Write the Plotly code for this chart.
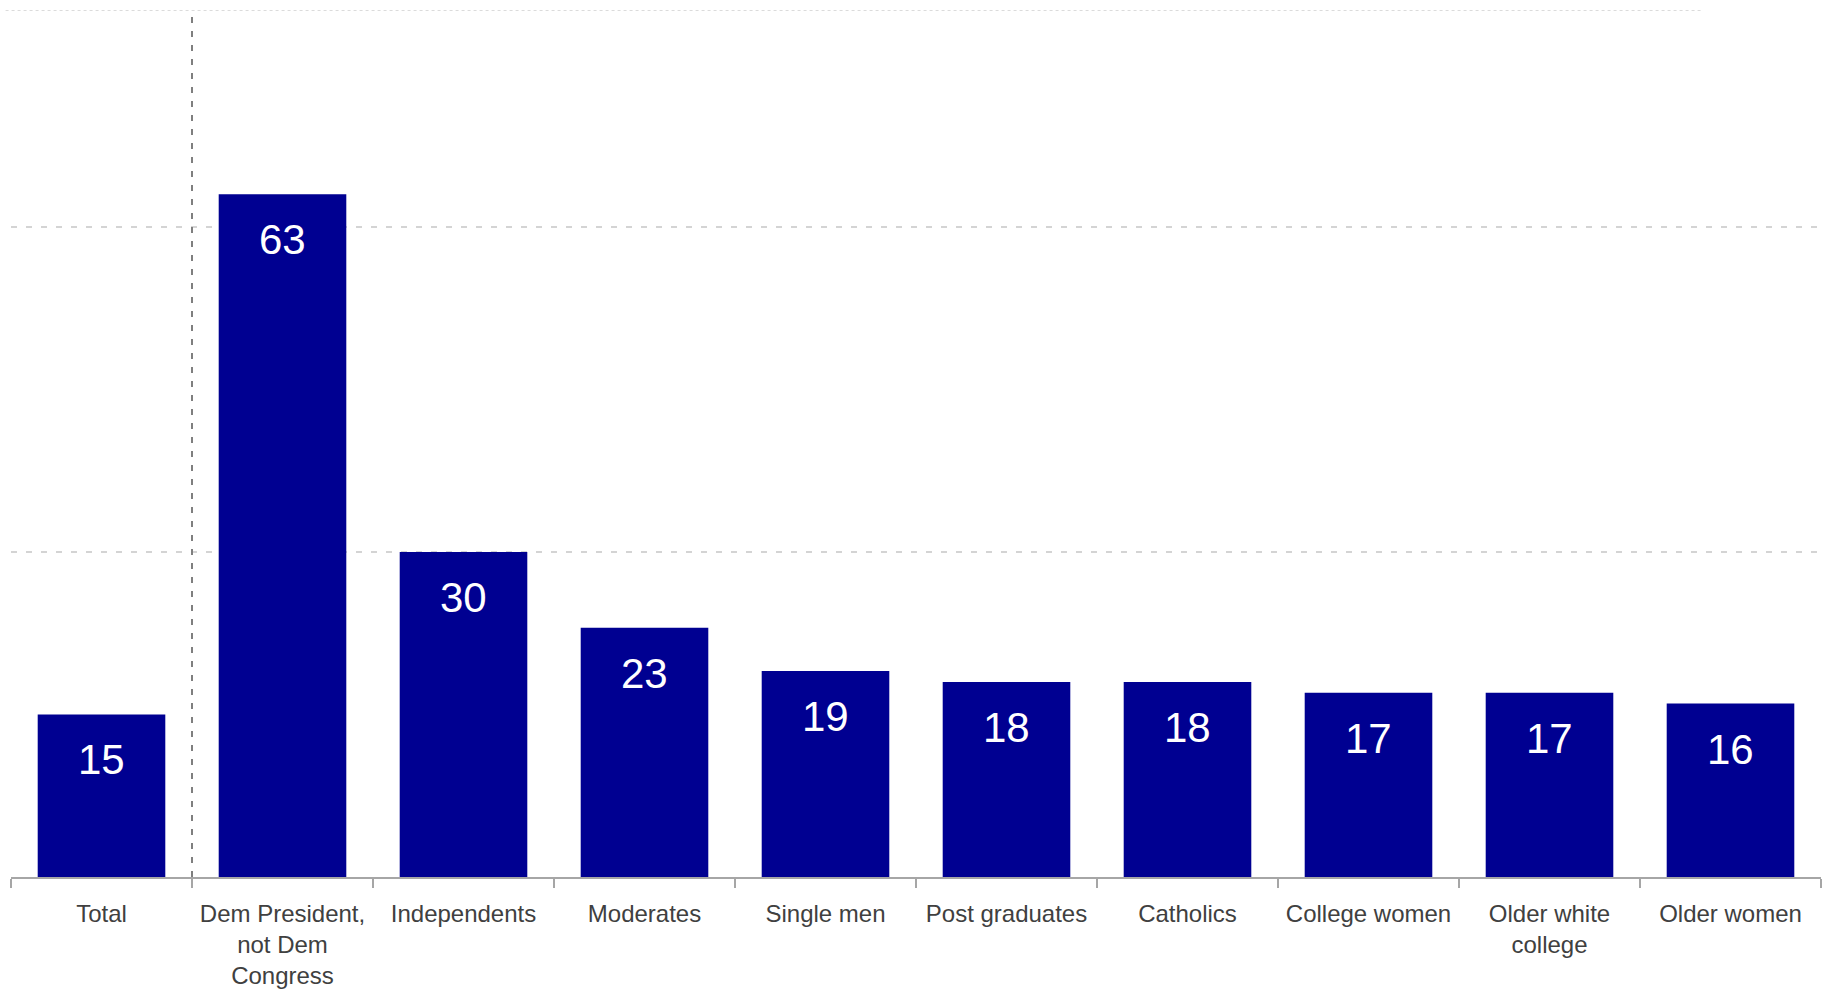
import plotly.graph_objects as go

categories = ["Total", "Dem President,<br>not Dem<br>Congress", "Independents", "Moderates",
              "Single men", "Post graduates", "Catholics", "College women",
              "Older white<br>college", "Older women"]
values = [15, 63, 30, 23, 19, 18, 18, 17, 17, 16]
grid_values = [30, 60]
y_max = 80

BAR_COLOR = "#000091"
FONT = "Arial, Liberation Sans, Arimo, sans-serif"

fig = go.Figure()
fig.add_trace(go.Bar(
    x=categories, y=values,
    marker=dict(color=BAR_COLOR, line=dict(width=0)),
    hoverinfo="x+y",
))

for c, v in zip(categories, values):
    fig.add_annotation(x=c, y=v, text=str(v), showarrow=False, yanchor="top",
                       yshift=-20, font=dict(family=FONT, size=42, color="white"))

# top dotted border line
fig.add_shape(type="line", xref="paper", yref="y", x0=-0.003, x1=0.935, y0=y_max, y1=y_max,
              line=dict(color="#d0d0d0", width=1.5, dash="dot"), layer="below")
# vertical dashed separator between Total and subgroups
fig.add_shape(type="line", xref="x", yref="y", x0=0.5, x1=0.5, y0=0, y1=y_max,
              line=dict(color="#7f7f7f", width=2, dash="6px,8px"), layer="above")

fig.update_layout(
    width=1828, height=992,
    margin=dict(l=11, r=7, t=10, b=115, autoexpand=False),
    paper_bgcolor="white", plot_bgcolor="white",
    bargap=0.295,
    showlegend=False,
    font=dict(family=FONT, size=24, color="#404040"),
    xaxis=dict(
        automargin=False,
        showline=True, linecolor="#a6a6a6", linewidth=1.5,
        ticks="outside", tickson="boundaries", ticklen=9, tickwidth=1.5, tickcolor="#a6a6a6",
        ticklabelstandoff=14,
        tickfont=dict(family=FONT, size=24, color="#404040"),
        showgrid=False, zeroline=False,
    ),
    yaxis=dict(
        automargin=False,
        range=[0, y_max], tickvals=grid_values, showticklabels=False,
        showgrid=True, gridcolor="#d4d4d4", gridwidth=1.5, griddash="6px,9px",
        zeroline=False, showline=False,
    ),
)

fig.write_html(
    "out.html",
    config={"displayModeBar": False},
    post_script="document.body.style.margin='0';document.body.style.overflow='hidden';",
)
